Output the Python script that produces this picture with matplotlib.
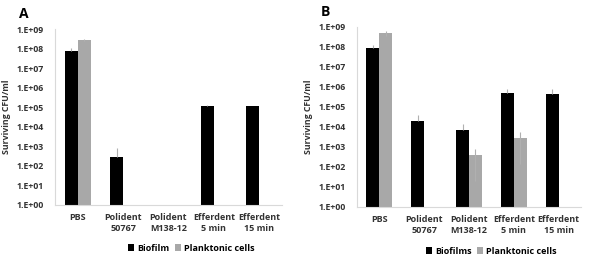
import matplotlib.pyplot as plt
import numpy as np

plt.rcParams['font.family'] = ['Open Sans', 'DejaVu Sans']

groups = ["PBS", "Polident\n50767", "Polident\nM138-12", "Efferdent\n5 min", "Efferdent\n15 min"]

# panel A
a_bio = [7.5e7, 3.0e2, 0, 1.2e5, 1.1e5]
a_bio_err = [3.0e7, 5.0e2, 0, 1.0e4, 1.0e4]
a_plank = [2.7e8, 0, 0, 0, 0]
a_plank_err = [3.0e7, 0, 0, 0, 0]

# panel B
b_bio = [9.3e7, 2.1e4, 6.8e3, 5.0e5, 4.4e5]
b_bio_err = [3.0e7, 2.0e4, 8.0e3, 3.0e5, 3.5e5]
b_plank = [4.9e8, 0, 3.9e2, 2.7e3, 0]
b_plank_err = [1.5e8, 0, 3.7e2, 3.2e3, 0]

yticks = [10.0**k for k in range(10)]
ytick_labels = ["1.E+%02d" % k for k in range(10)]

fig = plt.figure(figsize=(6, 2.58), dpi=100)
ax_a = fig.add_axes([55 / 600, 1 - 205 / 258, 227 / 600, 176 / 258])
ax_b = fig.add_axes([357 / 600, 1 - 207 / 258, 224 / 600, 180 / 258])

grey_txt = '#333333'


def draw(ax, bio, bio_err, plank, plank_err, bio_name, tag):
    x = np.arange(len(groups))
    w = 0.29
    bio = np.array(bio, dtype=float)
    plank = np.array(plank, dtype=float)
    hb = np.where(bio > 0, bio - 1, 0)
    hp = np.where(plank > 0, plank - 1, 0)
    eb = [np.zeros(len(bio)), bio_err]
    lo = np.minimum(np.array(plank_err, dtype=float), plank * 0.95)
    ep = [lo, plank_err]
    ax.bar(x - w / 2, hb, w, bottom=1, color='black', label=bio_name,
           yerr=eb, error_kw=dict(ecolor='#b0b0b0', elinewidth=0.8, capsize=0))
    ax.bar(x + w / 2, hp, w, bottom=1, color='#a8a8a8', label='Planktonic cells',
           yerr=ep, error_kw=dict(ecolor='#b0b0b0', elinewidth=0.8, capsize=0))
    ax.set_yscale('log')
    ax.set_ylim(1, 1e9)
    ax.set_xlim(-0.5, len(groups) - 0.5)
    ax.set_yticks(yticks)
    ax.set_yticklabels(ytick_labels)
    ax.minorticks_off()
    ax.set_xticks(x)
    ax.set_xticklabels(groups)
    ax.tick_params(axis='both', length=0, labelsize=6.5, colors=grey_txt)
    ax.tick_params(axis='y', labelsize=6.3, pad=8)
    ax.tick_params(axis='x', pad=6)
    for lab in ax.get_xticklabels() + ax.get_yticklabels():
        lab.set_fontweight('bold')
    for s in ['top', 'right']:
        ax.spines[s].set_visible(False)
    ax.spines['left'].set_color('#d9d9d9')
    ax.spines['bottom'].set_color('#d9d9d9')
    ax.set_ylabel('Surviving CFU/ml', fontsize=6.3, color=grey_txt, fontweight='bold', labelpad=4)
    ax.text(-0.16, 1.06, tag, transform=ax.transAxes, fontsize=10, fontweight='bold')
    ax.legend(loc='center', bbox_to_anchor=(0.6, -0.245), ncol=2, frameon=False,
              handlelength=0.7, handleheight=0.7, handletextpad=0.3,
              columnspacing=0.6, borderpad=0, labelcolor='black',
              prop=dict(weight='bold', size=6.5))


draw(ax_a, a_bio, a_bio_err, a_plank, a_plank_err, 'Biofilm', 'A')
draw(ax_b, b_bio, b_bio_err, b_plank, b_plank_err, 'Biofilms', 'B')

fig.savefig('out.png', dpi=100)
